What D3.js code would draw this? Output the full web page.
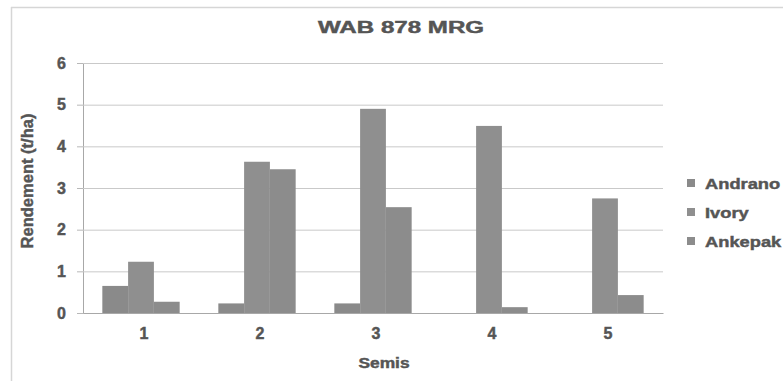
<!DOCTYPE html>
<html>
<head>
<meta charset="utf-8">
<script src="https://cdn.jsdelivr.net/npm/d3@7"></script>
<style>
  html, body { margin: 0; padding: 0; background: #ffffff; }
  svg { display: block; }
  text { font-family: "Liberation Sans", Arial, sans-serif; font-weight: bold; fill: #555555;
         stroke: #555555; stroke-width: 0.45; }
</style>
</head>
<body>
<svg id="chart" width="783" height="381"></svg>
<script>
// Yield (t/ha) of WAB 878 MRG per sowing date and site
const categories = ["1", "2", "3", "4", "5"];
const seriesNames = ["Andrano", "Ivory", "Ankepak"];
const andrano = [0.65, 0.23, 0.23, 0, 0];
const ivory = [1.23, 3.63, 4.90, 4.49, 2.75];
const ankepak = [0.27, 3.45, 2.54, 0.14, 0.43];
const yTicks = [0, 1, 2, 3, 4, 5, 6];
const seriesColors = ["#8a8a8a", "#8f8f8f", "#8c8c8c"];

const values = [andrano, ivory, ankepak];

const svg = d3.select("#chart");
const W = 783, H = 381;
const plot = { left: 83, right: 663, top: 63, bottom: 313 };

// chart-area frame
svg.append("line").attr("x1", 11).attr("x2", W).attr("y1", 7.5).attr("y2", 7.5)
  .attr("stroke", "#d6d6d6").attr("stroke-width", 1.5);
svg.append("line").attr("x1", 11.5).attr("x2", 11.5).attr("y1", 7).attr("y2", H)
  .attr("stroke", "#d6d6d6").attr("stroke-width", 1.5);

const x = d3.scaleBand().domain(categories).range([plot.left, plot.right]).padding(0);
const groupW = x.bandwidth() * 2 / 3;
const xs = d3.scaleBand().domain(seriesNames).range([0, groupW]).padding(0);
const y = d3.scaleLinear().domain([0, 6]).range([plot.bottom, plot.top]);

function styleTickText(sel) {
  sel.attr("font-size", 16).attr("fill", "#555555")
    .attr("font-family", "Liberation Sans, Arial, sans-serif").attr("font-weight", "bold");
}

// horizontal gridlines with tick marks
const yAxis = d3.axisLeft(y).tickValues(yTicks).tickSize(6).tickPadding(11)
  .tickFormat(d3.format("d"));
const gy = svg.append("g").attr("transform", `translate(${plot.left},0)`).call(yAxis);
gy.select(".domain").attr("stroke", "#a8a8a8");
gy.selectAll(".tick line").attr("stroke", "#b8b8b8");
styleTickText(gy.selectAll(".tick text"));
gy.selectAll(".tick").filter(d => d > 0).append("line")
  .attr("x1", 0).attr("x2", plot.right - plot.left)
  .attr("stroke", "#c9c9c9").attr("stroke-width", 1);

// bars
const groups = svg.append("g").selectAll("g")
  .data(categories)
  .join("g")
  .attr("transform", c => `translate(${x(c) + (x.bandwidth() - groupW) / 2},0)`);

groups.selectAll("rect")
  .data((c, i) => seriesNames.map((s, k) => ({ s, k, v: values[k][i] })))
  .join("rect")
  .attr("x", d => xs(d.s))
  .attr("width", xs.bandwidth())
  .attr("y", d => y(d.v))
  .attr("height", d => y(0) - y(d.v))
  .attr("fill", d => seriesColors[d.k]);

// x axis
const xAxis = d3.axisBottom(x).tickSize(0).tickPadding(15);
const gx = svg.append("g").attr("transform", `translate(0,${plot.bottom})`).call(xAxis);
gx.select(".domain").attr("stroke", "#a8a8a8");
styleTickText(gx.selectAll(".tick text").attr("dx", 3));

// horizontally widened bold text
function wideText(tx, ty, str, size, sx, anchor) {
  return svg.append("text")
    .attr("transform", `translate(${tx},${ty}) scale(${sx},1)`)
    .attr("text-anchor", anchor || "middle")
    .attr("font-size", size)
    .text(str);
}

// title
wideText(401, 33, "WAB 878 MRG", 17, 1.42).attr("stroke-width", 0.7);
// x axis title
wideText(384, 368, "Semis", 14.5, 1.2).attr("stroke-width", 0.6);
// y axis title
svg.append("text")
  .attr("transform", `translate(33,181) rotate(-90)`)
  .attr("text-anchor", "middle")
  .attr("font-size", 16.5)
  .attr("stroke-width", 0.6)
  .text("Rendement (t/ha)");

// legend
const legend = svg.append("g").selectAll("g")
  .data(seriesNames)
  .join("g")
  .attr("transform", (d, i) => `translate(687,${179 + i * 29})`);
legend.append("rect").attr("width", 8).attr("height", 8)
  .attr("fill", (d, i) => seriesColors[i]);
legend.append("text")
  .attr("transform", "translate(18,10) scale(1.22,1)")
  .attr("font-size", 15)
  .text(d => d);
</script>
</body>
</html>
